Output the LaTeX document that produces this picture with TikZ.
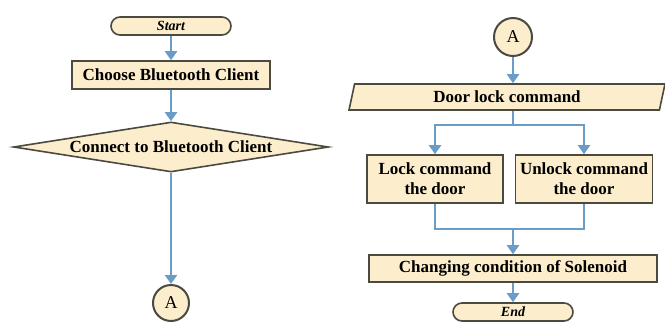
\documentclass[tikz,border=0pt]{standalone}
\usepackage{fontspec}
\setmainfont{Liberation Serif}
\usetikzlibrary{positioning,calc,shapes.geometric,arrows.meta}
\definecolor{boxfill}{HTML}{FCEDCC}
\definecolor{boxline}{HTML}{4A4A40}
\definecolor{flowblue}{HTML}{6A9CC9}
\tikzset{
  box/.style={draw=boxline, line width=1.6pt, fill=boxfill, align=center, inner sep=0pt,
    font=\fontsize{17}{20}\selectfont\bfseries},
  process/.style={box, rectangle},
  decision/.style={box, diamond, aspect=6.3, minimum width=315pt, minimum height=50pt},
  iobox/.style={box, trapezium, trapezium left angle=65, trapezium right angle=115,
    trapezium stretches body, minimum width=316pt, minimum height=26pt},
  terminal/.style={box, rectangle, rounded corners=9pt, minimum width=120pt, minimum height=18pt,
    font=\fontsize{14}{16}\selectfont\bfseries\itshape},
  joint/.style={draw=boxline, line width=2pt, fill=boxfill, circle, minimum size=#1, inner sep=0pt,
    font=\fontsize{18}{20}\selectfont},
  link/.style={draw=flowblue, line width=2.2pt},
  flow/.style={link, -{Triangle[width=12pt,length=9pt]}}
}
\begin{document}
\begin{tikzpicture}[x=1pt,y=-1pt]
\useasboundingbox (0,0) rectangle (665,322);
% left column
\node[terminal] (start) at (171,26) {Start};
\node[process, minimum width=198pt, minimum height=28pt] (choose) at (171,75) {Choose Bluetooth Client};
\node[decision] (connect) at (171,147) {Connect to Bluetooth Client};
\node[joint=36pt] (outA) at (171,303) {A};
\draw[flow] (start) -- (choose);
\draw[flow] (choose) -- (connect);
\draw[flow] (connect) -- (outA);
% right column
\node[joint=38pt] (inA) at (513,37) {A};
\node[iobox] (door) at (507,97) {Door lock command};
\node[process, minimum width=136pt, minimum height=48pt] (lock) at (435,179) {Lock command\\the door};
\node[process, minimum width=137pt, minimum height=48pt] (unlock) at (584,179) {Unlock command\\the door};
\node[process, minimum width=288pt, minimum height=27pt] (change) at (513,268.5) {Changing condition of Solenoid};
\node[terminal] (end) at (513,312) {End};
\coordinate (split) at (513,125);
\coordinate (merge) at (513,229);
\draw[flow] (inA) -- (inA |- door.north);
\draw[link] (split |- door.south) -- (split);
\draw[flow] (split) -| (lock);
\draw[flow] (split) -| (unlock);
\draw[link] (lock.south) |- (merge) -| (unlock.south);
\draw[flow] (merge) -- (change);
\draw[flow] (change) -- (end);
\end{tikzpicture}
\end{document}
